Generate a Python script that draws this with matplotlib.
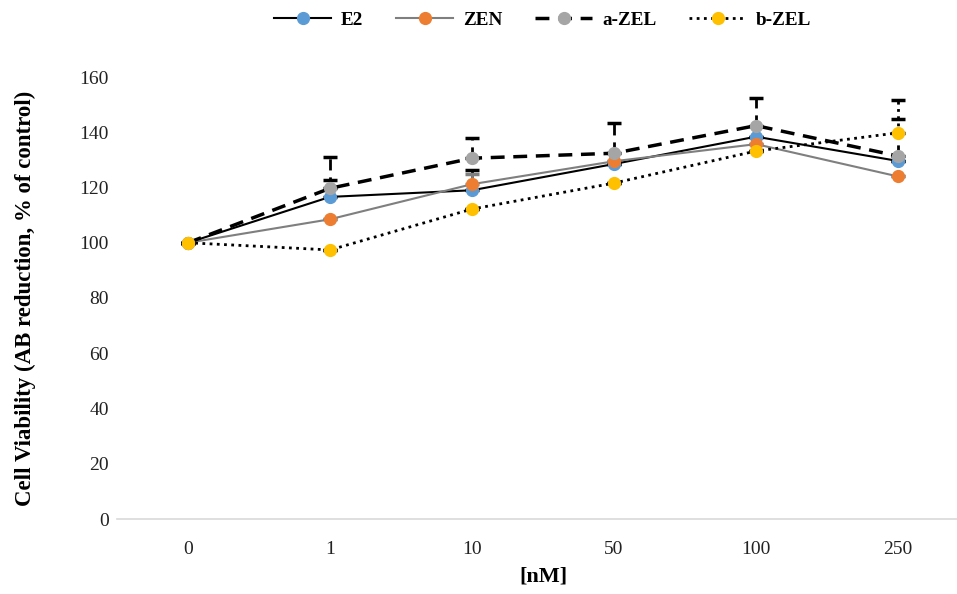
import numpy as np
import matplotlib
matplotlib.use("Agg")
import matplotlib.pyplot as plt

plt.rcParams['font.family'] = ['Liberation Serif', 'DejaVu Serif']

# concentrations and mean viability per compound
doses = ['0', '1', '10', '50', '100', '250']
e2 = [100, 116.6, 119.0, 128.5, 138.4, 129.6]
zen = [100, 108.5, 121.2, 129.5, 135.7, 124.0]
a_zel = [100, 119.7, 130.6, 132.4, 142.4, 131.4]
b_zel = [100, 97.4, 112.2, 121.6, 133.2, 139.8]

# upper error (SD)
e2_err = [0, 6.0, 7.3, 0, 0, 0]
zen_err = [0, 0, 3.6, 0, 0, 0]
a_zel_err = [0, 11.5, 7.4, 10.8, 9.9, 13.3]
b_zel_err = [0, 0, 0, 0, 0, 12.0]

series = [
    ('E2', e2, e2_err, 'black', '-', 1.5, '#5B9BD5'),
    ('ZEN', zen, zen_err, '#7F7F7F', '-', 1.5, '#ED7D31'),
    ('a-ZEL', a_zel, a_zel_err, 'black', (0, (4, 2.5)), 2.5, '#A5A5A5'),
    ('b-ZEL', b_zel, b_zel_err, 'black', (0, (1, 1.6)), 2.0, '#FFC000'),
]

fig = plt.figure(figsize=(9.57, 5.94), dpi=100)
ax = fig.add_axes([117 / 957, 75 / 594, 852 / 957, 442 / 594])
x = np.arange(len(doses))

for name, y, err, col, ls, lw, mcol in series:
    eb = ax.errorbar(x, y, yerr=[np.zeros(len(err)), err], fmt='none',
                     ecolor=col, elinewidth=2, capsize=5, capthick=2.5, zorder=2)
    for lc in eb[2]:
        lc.set_linestyle(ls)
    ax.plot(x, y, color=col, linestyle=ls, linewidth=lw, marker='o',
            markersize=8.5, markerfacecolor=mcol, markeredgecolor=mcol,
            label=name, zorder=3)

ax.set_xlim(-0.5, len(doses) - 0.5)
ax.set_ylim(0, 160)
ax.set_yticks(np.arange(0, 161, 20))
ax.set_xticks(x)
ax.set_xticklabels(doses)
ax.tick_params(axis='both', length=0, labelsize=14, colors='#222222')
ax.tick_params(axis='y', pad=6)
ax.tick_params(axis='x', pad=16)

for side in ['top', 'right', 'left']:
    ax.spines[side].set_visible(False)
ax.spines['bottom'].set_color('#D9D9D9')
ax.spines['bottom'].set_linewidth(1.2)

ax.set_ylabel('Cell Viability (AB reduction, % of control)', fontsize=16.5,
              fontweight='bold', labelpad=31)
ax.set_xlabel('[nM]', fontsize=16, fontweight='bold', labelpad=6)

leg = fig.legend(loc='center', bbox_to_anchor=(0.567, 0.966), ncol=4,
                 frameon=False, prop={'weight': 'bold', 'size': 13.8},
                 handlelength=3.0, columnspacing=1.7, handletextpad=0.5)

fig.savefig('out.png', dpi=100)
